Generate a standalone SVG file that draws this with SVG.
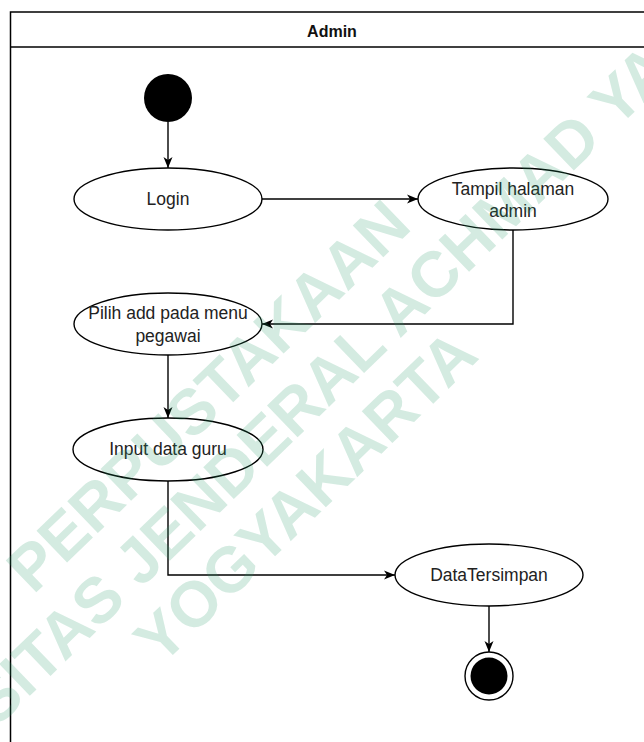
<svg xmlns="http://www.w3.org/2000/svg" width="644" height="742" viewBox="0 0 644 742">
  <style>
    .lane { fill: #ffffff; stroke: #000000; stroke-width: 1.5; }
    .node { fill: #ffffff; stroke: #000000; stroke-width: 1.4; }
    .lbl { font-family: "Liberation Sans", Arial, sans-serif; font-size: 17.5px; fill: #222222; text-anchor: middle; }
    .title { font-family: "Liberation Sans", Arial, sans-serif; font-size: 16px; font-weight: bold; fill: #111111; text-anchor: middle; }
    .edge { fill: none; stroke: #000000; stroke-width: 1.4; marker-end: url(#arrow); }
    .wm { font-family: "Liberation Sans", Arial, sans-serif; font-size: 64px; font-weight: bold; fill: rgb(40,155,105); fill-opacity: 0.2; text-anchor: middle; }
  </style>
  <defs>
    <marker id="arrow" markerUnits="userSpaceOnUse" markerWidth="12" markerHeight="10" refX="11" refY="5" orient="auto">
      <path d="M0,0.5 L11,5 L0,9.5 L3,5 Z" fill="#000000"/>
    </marker>
  </defs>

  <rect width="644" height="742" fill="#ffffff"/>

  <g id="lane-admin">
    <rect class="lane" x="10.5" y="12" width="700" height="800"/>
    <line x1="10.5" y1="47" x2="700" y2="47" stroke="#000000" stroke-width="1.5"/>
    <text class="title" x="332" y="37">Admin</text>
  </g>

  <g id="connectors">
    <path class="edge" d="M168,122 L168,168"/>
    <path class="edge" d="M262,199 L418,199"/>
    <path class="edge" d="M513,230 L513,324 L262,324"/>
    <path class="edge" d="M168,355 L168,418"/>
    <path class="edge" d="M168,481 L168,575 L395,575"/>
    <path class="edge" d="M489,606 L489,652"/>
  </g>

  <g id="start">
    <circle cx="168" cy="98" r="24" fill="#000000"/>
  </g>

  <g id="login">
    <ellipse class="node" cx="168" cy="199" rx="94" ry="31"/>
    <text class="lbl" x="168" y="205">Login</text>
  </g>

  <g id="tampil-halaman-admin">
    <ellipse class="node" cx="513" cy="199" rx="95" ry="31"/>
    <text class="lbl" x="513" y="195">Tampil halaman</text>
    <text class="lbl" x="513" y="217">admin</text>
  </g>

  <g id="pilih-add">
    <ellipse class="node" cx="168" cy="324" rx="94" ry="31"/>
    <text class="lbl" x="168" y="319">Pilih add pada menu</text>
    <text class="lbl" x="168" y="342">pegawai</text>
  </g>

  <g id="input-data-guru">
    <ellipse class="node" cx="168" cy="449.5" rx="95" ry="31.5"/>
    <text class="lbl" x="168" y="455">Input data guru</text>
  </g>

  <g id="data-tersimpan">
    <ellipse class="node" cx="489" cy="575" rx="94" ry="31"/>
    <text class="lbl" x="489" y="581">DataTersimpan</text>
  </g>

  <g id="end">
    <circle cx="489" cy="676" r="24" fill="#ffffff" stroke="#000000" stroke-width="1.4"/>
    <circle cx="489" cy="676" r="18.5" fill="#000000"/>
  </g>

  <g id="watermark" transform="translate(272,462) rotate(-44)">
    <text class="wm" x="0" y="-70">PERPUSTAKAAN</text>
    <text class="wm" x="0" y="0">UNIVERSITAS JENDERAL ACHMAD YANI</text>
    <text class="wm" x="0" y="70">YOGYAKARTA</text>
  </g>
</svg>
